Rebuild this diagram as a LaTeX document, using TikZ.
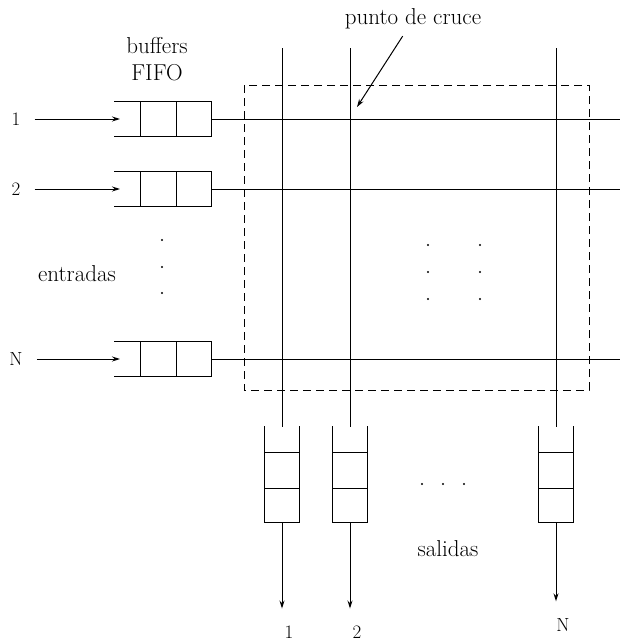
\documentclass[tikz,border=0pt]{standalone}
\usetikzlibrary{arrows.meta}
\begin{document}
\begin{tikzpicture}[x=1pt,y=-1pt,
  wire/.style={line width=1pt},
  arr/.style={wire,-{Stealth[length=8pt,width=5pt]}},
  frame/.style={line width=1pt,dash pattern=on 8pt off 5pt},
  word/.style={inner sep=0pt,font=\fontsize{23}{27}\selectfont},
  num/.style={inner sep=0pt,font=\fontsize{19}{22}\selectfont},
  dot/.style={circle,fill=black,inner sep=0pt,minimum size=2.2pt}]
\useasboundingbox (0,0) rectangle (620,643);

% crossbar region
\draw[frame] (244,85) rectangle (589,390);

% input labels and FIFO buffers (open on the left)
\foreach \r/\y/\t in {1/119/1,2/189/2,3/359/N}{
  \node[num] (in\r) at (16,\y) {\t};
  \coordinate (qa\r) at (114,\y-17.5);
  \coordinate (qb\r) at (114,\y+17.5);
  \coordinate (qw\r) at (120,\y);
  \coordinate (qe\r) at (211,\y);
  \draw[wire] (qa\r) -- (211,\y-17.5) -- (211,\y+17.5) -- (qb\r);
  \draw[wire] (140,\y-17.5) -- (140,\y+17.5);
  \draw[wire] (176,\y-17.5) -- (176,\y+17.5);
  \draw[arr,shorten <=14pt] (in\r) -- (qw\r);
  \coordinate (re\r) at (620,\y);
  \draw[wire] (qe\r) -- (re\r);
}

% output columns with FIFO buffers (open at the top)
\foreach \c/\x/\t/\ly in {1/282/1/632,2/350/2/632,3/556/N/625}{
  \coordinate (ct\c) at (\x,48);
  \coordinate (cb\c) at (\x,427);
  \draw[wire] (ct\c) -- (cb\c);
  \draw[wire] (\x-17.5,426) -- (\x-17.5,522) -- (\x+17.5,522) -- (\x+17.5,426);
  \draw[wire] (\x-17.5,452) -- (\x+17.5,452);
  \draw[wire] (\x-17.5,488) -- (\x+17.5,488);
  \coordinate (ob\c) at (\x,522);
  \node[num] (out\c) at (\x+7,\ly) {\t};
  \draw[arr,shorten >=17pt] (ob\c) -- (out\c.north -| ob\c);
}

% labels
\node[word] (buf) at (157,46) {buffers};
\node[word] (fifo) at (157,73) {FIFO};
\node[word] (ent) at (77,274) {entradas};
\node[word] (sal) at (448,549) {salidas};
\node[word] (pc) at (413,19) {punto de cruce};
\coordinate (xp) at (357,107);
\draw[arr,shorten <=8pt] (pc.south) ++(-6,0) -- (xp);

% ellipsis dots
\foreach \y in {240,267,293} \node[dot] (le\y) at (162,\y) {};
\foreach \y in {245,272,299} {
  \node[dot] (ma\y) at (428,\y) {};
  \node[dot] (mb\y) at (480,\y) {};
}
\foreach \x in {422,443,464} \node[dot] (bd\x) at (\x,484) {};
\end{tikzpicture}
\end{document}
